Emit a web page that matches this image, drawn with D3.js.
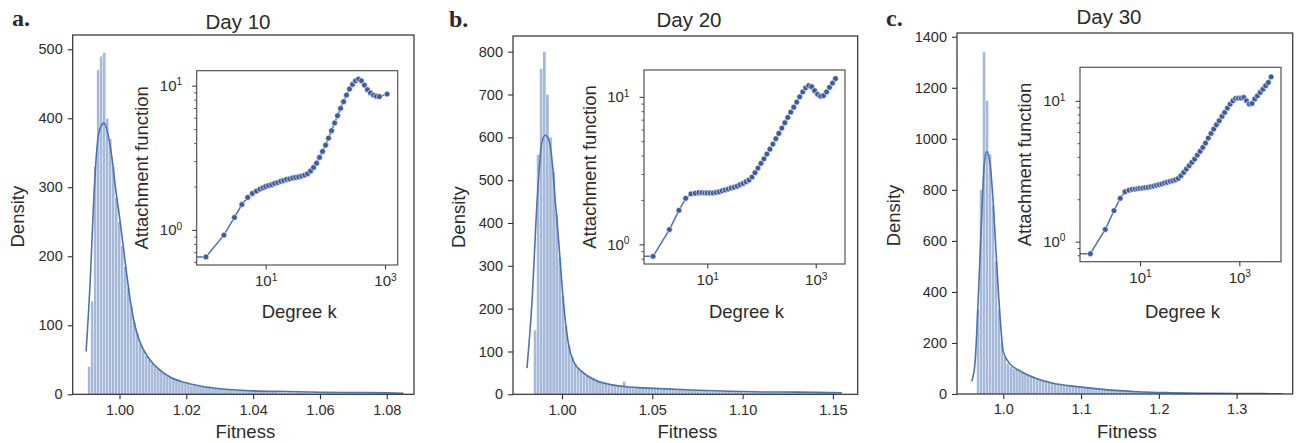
<!DOCTYPE html>
<html><head><meta charset="utf-8">
<script src="https://cdn.jsdelivr.net/npm/d3@7"></script>
<style>
body{margin:0;background:#fff;}
svg{display:block;}
text{font-family:"Liberation Sans",Arial,sans-serif;fill:#2b2b2b;}
</style>
</head><body>
<svg id="chart" width="1298" height="443"></svg>
<script>
// ---------------- DATA ----------------
const panelLetters = ["a.", "b.", "c."];
const panelTitles = ["Day 10", "Day 20", "Day 30"];

// Histogram (fitness density) : start, bin width, bin heights
const histA_start = 0.9905, histA_width = 0.0009;
const histA_heights = [40,135,330,470,490,495,400,370,330,285,250,215,185,155,128,105,88,74,64,56,50,45,41,37,34,31,28,25,23,21,19,17,16,15,13,13,12,12,11,10,
  10,9,9,8,8,8,7,7,6,6, 6,5,5,5,5,5,4,4,4,4, 4,4,4,3,3,3,3,3,3,3, 3,3,3,2,2,2,2,2,2,2, 2,2,2,2,2,2,2,2,2,2, 1,1,1,1,1,1,1,1,1,1, 1,1,1,1];
const histB_start = 0.9843, histB_width = 0.0017;
const histB_heights = [150,560,760,800,700,600,520,420,320,230,160,115,88,72,62,55,50,45,41,38,35,32,30,28,26,
  24,22,21,20,30,18,17,16,15,15, 15,15,14,14,13,13,12,12,12,11, 11,10,10,10,9,9,9,9,8,8,
  8,8,7,7,7,7,7,6,6,6, 6,6,6,5,5,5,5,5,5,5, 5,5,4,4,4,4,4,4,4,4, 4,4,4,3,3,3,3,3,3,3, 3,3,3,2,2];
const histC_start = 0.9658, histC_width = 0.0038;
const histC_heights = [330,800,1340,1150,940,740,520,330,200,145,
  120,108,100,95,90,85,80,75,70,66, 62,58,55,52,49,46,43,40, 38,36,34,32,30,29, 28,27,26,25,24,23,21,
  20,19,18,17,16,15,14,13,12,11, 11,10,10,9,9,8,8,8,7,7, 6,6,6,5,5,5,5,4,4,4, 4,4,3,3,3,3,3,3,3,2,
  2,2,2,2,2,2,2,2,2,2, 2,2,1,1,1,1,1,1,1,1,1,1,1];

// KDE curves
const kdeA_x = [0.9900,0.9912,0.9922,0.9932,0.9942,0.9954,0.9964,0.9977,0.9987,1.0002,1.0017,1.0031,1.0046,1.0061,1.0091,1.0121,1.0151,1.0196,1.0241,1.030,1.040,1.050,1.060,1.070,1.080,1.085];
const kdeA_y = [62,161,272,354,386,393,380,344,303,250,192,140,100,76,50,35,25,17,12,8,5,4,3,2.5,2,1.5];
const kdeB_x = [0.9806,0.9834,0.9862,0.9889,0.9908,0.9930,0.9949,0.9963,0.9982,1.0000,1.0019,1.0037,1.0065,1.0111,1.0185,1.0277,1.037,1.045,1.060,1.075,1.093,1.111,1.130,1.148,1.155];
const kdeB_y = [61,216,450,590,605,590,528,450,356,255,170,115,76,53,33,22,17,15,12,9.5,7,5.5,5,4,3.5];
const kdeC_x = [0.9594,0.9636,0.9679,0.9722,0.9756,0.9787,0.9829,0.9871,0.9915,0.9958,1.0000,1.0086,1.0215,1.0433,1.0639,1.0948,1.1282,1.1719,1.2143,1.2567,1.3000,1.3590];
const kdeC_y = [50,120,381,695,904,950,904,747,512,303,165,118,90,60,42,29,18,9,5,3,2,1];

// Inset: attachment function vs degree k
const kA = [0.3,1,2,3,4,5,6,7,8,9,10,11.2,12.6,14.1,15.9,17.8,20.0,22.4,25.2,28.3,31.8,35.6,40.0,44.9,50.4,56.6,63.5,71.3,80.0,89.8,101,113,127,143,160,180,202,226,254,285,320,359,403,452,508,570,640,718,805,1084];
const attA = [0.65,0.65,0.92,1.22,1.50,1.68,1.79,1.86,1.92,1.96,2.00,2.03,2.06,2.10,2.13,2.17,2.20,2.24,2.26,2.29,2.31,2.33,2.36,2.40,2.45,2.56,2.71,2.90,3.18,3.50,3.87,4.33,4.87,5.51,6.19,6.96,7.74,8.61,9.48,10.2,10.8,11.1,10.8,10.1,9.38,8.9,8.6,8.45,8.4,8.75];
const kB = [0.3,1,2,3,4,5,6,7,8,9,10,11.35,12.88,14.62,16.6,18.84,21.38,24.27,27.54,31.26,35.48,40.27,45.71,51.88,58.88,66.83,75.86,86.1,97.7,110.9,125.9,142.9,162.2,184.1,208.9,237.1,269.2,305.5,346.7,393.6,446.7,507,575.4,653.1,741.3,841.4,955,1084,1230,1396,1585,1799,2042,2317];
const attB = [0.83,0.83,1.26,1.70,2.05,2.20,2.22,2.24,2.24,2.23,2.23,2.23,2.23,2.25,2.27,2.31,2.34,2.37,2.41,2.44,2.48,2.54,2.59,2.66,2.73,2.86,3.06,3.29,3.54,3.80,4.09,4.42,4.78,5.20,5.65,6.14,6.67,7.25,7.88,8.51,9.21,10.0,10.8,11.5,11.9,11.7,11.0,10.4,10.1,10.2,10.8,11.6,12.4,13.3];
const kC = [0.3,1,2,3,4,5,6,7,8,9,10,11.35,12.88,14.62,16.6,18.84,21.38,24.27,27.54,31.26,35.48,40.27,45.71,51.88,58.88,66.83,75.86,86.1,97.7,110.9,125.9,142.9,162.2,184.1,208.9,237.1,269.2,305.5,346.7,393.6,446.7,507,575.4,653.1,741.3,841.4,955,1084,1230,1396,1585,1799,2042,2317,2630,2985,3388,3846,4365];
const attC = [0.82,0.82,1.22,1.66,2.03,2.26,2.32,2.35,2.36,2.38,2.39,2.40,2.42,2.43,2.46,2.48,2.51,2.54,2.57,2.61,2.64,2.68,2.71,2.75,2.81,2.94,3.10,3.28,3.46,3.66,3.86,4.12,4.38,4.67,5.01,5.44,5.87,6.30,6.76,7.22,7.75,8.27,8.88,9.48,10.0,10.4,10.45,10.45,10.57,10.0,9.48,9.58,10.3,10.85,11.47,12.1,12.8,13.5,14.8];

// Tick values
const xTicksA = [1.00,1.02,1.04,1.06,1.08];
const xTicksB = [1.00,1.05,1.10,1.15];
const xTicksC = [1.0,1.1,1.2,1.3];
const yTicksA = [0,100,200,300,400,500];
const yTicksB = [0,100,200,300,400,500,600,700,800];
const yTicksC = [0,200,400,600,800,1000,1200,1400];
const insetXTickExp = [1,3];
const insetYTickExp = [0,1];

// ---------------- LAYOUT ----------------
const layout = [
  {main:{l:72.7,r:414,t:35,b:394.3}, xDom:[0.98599,1.08815], yDom:[0,520.7], xFmt:".2f",
   inset:{l:196.7,r:397.7,t:70.7,b:265}, kDom:[0.70,1630], aDom:[0.571,12.7],
   letter:[12,26], title:[238,29], densX:23.5, attX:148},
  {main:{l:513,r:857.7,t:36,b:394.3}, xDom:[0.97287,1.16373], yDom:[0,836.6], xFmt:".2f",
   inset:{l:644,r:845,t:70,b:264}, kDom:[0.68,3470], aDom:[0.736,15.2],
   letter:[449,27], title:[689,27], densX:465, attX:596},
  {main:{l:957,r:1292.7,t:33,b:394}, xDom:[0.94047,1.37207], yDom:[0,1414.6], xFmt:".1f",
   inset:{l:1080,r:1281,t:67.3,b:261.7}, kDom:[0.62,6900], aDom:[0.72,17.3],
   letter:[886,26], title:[1109,24], densX:900, attX:1031}
];

const panelData = [
  {hs:histA_start, hw:histA_width, hh:histA_heights, kx:kdeA_x, ky:kdeA_y, k:kA, att:attA, xt:xTicksA, yt:yTicksA},
  {hs:histB_start, hw:histB_width, hh:histB_heights, kx:kdeB_x, ky:kdeB_y, k:kB, att:attB, xt:xTicksB, yt:yTicksB},
  {hs:histC_start, hw:histC_width, hh:histC_heights, kx:kdeC_x, ky:kdeC_y, k:kC, att:attC, xt:xTicksC, yt:yTicksC}
];

const svg = d3.select("#chart");
const axisColor = "#2e2e2e";
const barColor = "#a6b9d8";
const lineColor = "#4c72b0";
const dotColor = "#3d5c9e";

function supLabel(sel, exp) {
  sel.text("");
  sel.append("tspan").text("10");
  sel.append("tspan").attr("dy", "-0.55em").attr("font-size", "0.68em").text(String(exp));
}

panelData.forEach((d, pi) => {
  const L = layout[pi];
  const m = L.main;
  const g = svg.append("g");
  const clipId = "clipMain" + pi;
  svg.append("clipPath").attr("id", clipId).append("rect")
    .attr("x", m.l).attr("y", m.t).attr("width", m.r - m.l).attr("height", m.b - m.t);

  const x = d3.scaleLinear().domain(L.xDom).range([m.l, m.r]);
  const y = d3.scaleLinear().domain(L.yDom).range([m.b, m.t]);

  // histogram
  const bins = d.hh.map((h, i) => ({x0: d.hs + i * d.hw, x1: d.hs + (i + 1) * d.hw, h}));
  g.append("g").attr("clip-path", `url(#${clipId})`).selectAll("rect").data(bins).join("rect")
    .attr("x", b => x(b.x0)).attr("width", b => Math.max(0.5, x(b.x1) - x(b.x0)))
    .attr("y", b => y(b.h)).attr("height", b => y(0) - y(b.h))
    .attr("fill", barColor).attr("stroke", "#ffffff").attr("stroke-width", 0.3);

  // kde
  const kde = d.kx.map((v, i) => [v, d.ky[i]]);
  g.append("path").attr("clip-path", `url(#${clipId})`).datum(kde)
    .attr("d", d3.line().x(p => x(p[0])).y(p => y(p[1])).curve(d3.curveMonotoneX))
    .attr("fill", "none").attr("stroke", lineColor).attr("stroke-width", 1.6);

  // axes
  const xAxis = g.append("g").attr("transform", `translate(0,${m.b})`)
    .call(d3.axisBottom(x).tickValues(d.xt).tickFormat(d3.format(L.xFmt)).tickSize(5).tickPadding(5));
  const yAxis = g.append("g").attr("transform", `translate(${m.l},0)`)
    .call(d3.axisLeft(y).tickValues(d.yt).tickFormat(d3.format("d")).tickSize(5).tickPadding(5));
  [xAxis, yAxis].forEach(a => {
    a.select(".domain").remove();
    a.selectAll(".tick line").attr("stroke", axisColor).attr("stroke-width", 1.1);
    a.selectAll(".tick text").attr("font-size", 14.5).attr("fill", "#333").attr("font-family", "Liberation Sans, Arial, sans-serif");
  });
  // frame
  g.append("rect").attr("x", m.l).attr("y", m.t).attr("width", m.r - m.l).attr("height", m.b - m.t)
    .attr("fill", "none").attr("stroke", axisColor).attr("stroke-width", 1.2);

  // labels
  g.append("text").attr("x", (m.l + m.r) / 2 + 2).attr("y", 438).attr("text-anchor", "middle")
    .attr("font-size", 18.5).text("Fitness");
  g.append("text").attr("transform", `translate(${L.densX},${(m.t + m.b) / 2 + 2}) rotate(-90)`)
    .attr("text-anchor", "middle").attr("font-size", 18.5).text("Density");
  g.append("text").attr("x", L.title[0]).attr("y", L.title[1]).attr("text-anchor", "middle")
    .attr("font-size", 20.5).text(panelTitles[pi]);
  g.append("text").attr("x", L.letter[0]).attr("y", L.letter[1])
    .attr("font-size", 24).attr("font-weight", "bold")
    .style("font-family", "'Liberation Serif', serif").text(panelLetters[pi]);

  // ---------- inset ----------
  const s = L.inset;
  const ig = svg.append("g");
  ig.append("rect").attr("x", s.l).attr("y", s.t).attr("width", s.r - s.l).attr("height", s.b - s.t)
    .attr("fill", "#fff");
  const clipI = "clipInset" + pi;
  svg.append("clipPath").attr("id", clipI).append("rect")
    .attr("x", s.l).attr("y", s.t).attr("width", s.r - s.l).attr("height", s.b - s.t);
  const kx = d3.scaleLog().domain(L.kDom).range([s.l, s.r]);
  const ay = d3.scaleLog().domain(L.aDom).range([s.b, s.t]);
  const pts = d.k.map((v, i) => [v, d.att[i]]);
  const inner = ig.append("g").attr("clip-path", `url(#${clipI})`);
  inner.append("path").datum(pts)
    .attr("d", d3.line().x(p => kx(p[0])).y(p => ay(p[1])))
    .attr("fill", "none").attr("stroke", lineColor).attr("stroke-width", 1.5);
  inner.selectAll("circle").data(pts).join("circle")
    .attr("cx", p => kx(p[0])).attr("cy", p => ay(p[1])).attr("r", 2.9)
    .attr("fill", dotColor).attr("stroke", "#ffffff").attr("stroke-width", 0.6);

  // inset axes
  const ixAxis = ig.append("g").attr("transform", `translate(0,${s.b})`)
    .call(d3.axisBottom(kx).tickValues(insetXTickExp.map(e => Math.pow(10, e))).tickSize(4.5).tickPadding(6).tickFormat(""));
  ixAxis.selectAll(".tick text").each(function(v) { supLabel(d3.select(this), Math.round(Math.log10(v))); });
  const minorY = [];
  [0.1, 1, 10].forEach(dec => { for (let j = 2; j <= 9; j++) { const v = dec * j; if (v > L.aDom[0] && v < L.aDom[1]) minorY.push(v); } });
  ig.append("g").attr("transform", `translate(${s.l},0)`)
    .call(d3.axisLeft(ay).tickValues(minorY).tickSize(2.5).tickFormat(""))
    .call(a => { a.select(".domain").remove(); a.selectAll("line").attr("stroke", axisColor).attr("stroke-width", 0.8); });
  const iyAxis = ig.append("g").attr("transform", `translate(${s.l},0)`)
    .call(d3.axisLeft(ay).tickValues(insetYTickExp.map(e => Math.pow(10, e))).tickSize(4.5).tickPadding(10).tickFormat(""));
  iyAxis.selectAll(".tick text").each(function(v) { supLabel(d3.select(this), Math.round(Math.log10(v))); });
  [ixAxis, iyAxis].forEach(a => {
    a.select(".domain").remove();
    a.selectAll(".tick line").attr("stroke", axisColor).attr("stroke-width", 1);
    a.selectAll(".tick text").attr("font-size", 15).attr("fill", "#333").attr("font-family", "Liberation Sans, Arial, sans-serif");
  });
  ig.append("rect").attr("x", s.l).attr("y", s.t).attr("width", s.r - s.l).attr("height", s.b - s.t)
    .attr("fill", "none").attr("stroke", "#444").attr("stroke-width", 1.1);
  ig.append("text").attr("x", (s.l + s.r) / 2 + 2).attr("y", 318).attr("text-anchor", "middle")
    .attr("font-size", 18.5).text("Degree k");
  ig.append("text").attr("transform", `translate(${L.attX},${(s.t + s.b) / 2}) rotate(-90)`)
    .attr("text-anchor", "middle").attr("font-size", 18.5).text("Attachment function");
});
</script>
</body></html>
